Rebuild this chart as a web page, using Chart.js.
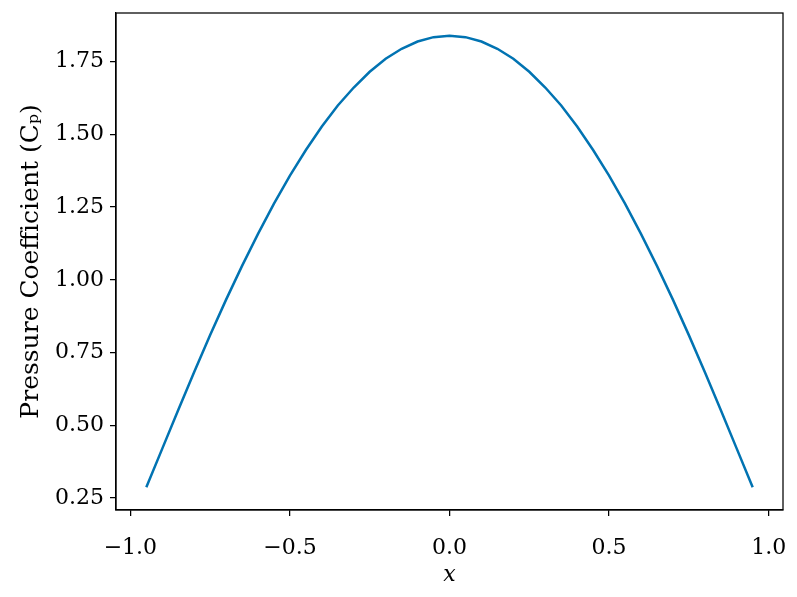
<!DOCTYPE html>
<html>
<head>
<meta charset="utf-8">
<script src="https://cdn.jsdelivr.net/npm/chart.js@4/dist/chart.umd.min.js"></script>
<style>
  html, body { margin: 0; padding: 0; background: #ffffff; }
  #wrap { width: 797px; height: 597px; }
</style>
</head>
<body>
<div id="wrap"><canvas id="c" width="797" height="597"></canvas></div>
<script>
// Data
const xValues = [-0.95, -0.90, -0.85, -0.80, -0.75, -0.70, -0.65, -0.60, -0.55, -0.50,
                 -0.45, -0.40, -0.35, -0.30, -0.25, -0.20, -0.15, -0.10, -0.05, 0.00,
                  0.05, 0.10, 0.15, 0.20, 0.25, 0.30, 0.35, 0.40, 0.45, 0.50,
                  0.55, 0.60, 0.65, 0.70, 0.75, 0.80, 0.85, 0.90, 0.95];
const cpValues = [0.287, 0.420, 0.553, 0.683, 0.810, 0.932, 1.048, 1.158, 1.262, 1.358,
                  1.446, 1.527, 1.599, 1.661, 1.715, 1.760, 1.794, 1.819, 1.834, 1.839,
                  1.834, 1.819, 1.794, 1.760, 1.715, 1.661, 1.599, 1.527, 1.446, 1.358,
                  1.262, 1.158, 1.048, 0.932, 0.810, 0.683, 0.553, 0.420, 0.287];
const xTicks = [-1.0, -0.5, 0.0, 0.5, 1.0];
const yTicks = [0.25, 0.50, 0.75, 1.00, 1.25, 1.50, 1.75];
const xLabel = 'x';
const yLabel = 'Pressure Coefficient (C\u209A)';

const points = xValues.map((x, i) => ({ x: x, y: cpValues[i] }));
const FONT = "'DejaVu Serif', 'Liberation Serif', serif";
const fmt = (v, d) => { const s = Math.abs(v).toFixed(d); return v < 0 ? '\u2212' + s : s; };

const frame = {
  id: 'frame',
  afterDraw(chart) {
    const a = chart.chartArea, ctx = chart.ctx;
    ctx.save();
    ctx.strokeStyle = '#000';
    ctx.lineWidth = 1.25;
    ctx.strokeRect(a.left, a.top, a.right - a.left, a.bottom - a.top);
    ctx.restore();
  }
};

new Chart(document.getElementById('c'), {
  type: 'line',
  data: {
    datasets: [{
      data: points,
      borderColor: '#0173b2',
      borderWidth: 2.5,
      pointRadius: 0,
      fill: false,
      tension: 0
    }]
  },
  options: {
    responsive: false,
    animation: false,
    devicePixelRatio: 1,
    layout: { padding: { left: 0, top: 13, right: 14, bottom: 9 } },
    plugins: { legend: { display: false }, tooltip: { enabled: false } },
    scales: {
      x: {
        type: 'linear',
        min: -1.045, max: 1.045,
        afterBuildTicks: s => { s.ticks = xTicks.map(v => ({ value: v })); },
        afterFit: s => { s.height = 78; s.paddingLeft = 0; s.paddingRight = 0; },
        grid: { display: true, drawOnChartArea: false, drawTicks: true, tickLength: 6, color: '#000', lineWidth: 1.25 },
        border: { display: true, color: '#000', width: 1.25 },
        ticks: { color: '#000', font: { family: FONT, size: 22 }, padding: 19, maxRotation: 0,
                 callback: v => fmt(v, 1) },
        title: { display: true, text: xLabel, color: '#000',
                 font: { family: FONT, size: 22, style: 'italic' }, padding: { top: 0, bottom: 0 } }
      },
      y: {
        type: 'linear',
        min: 0.209, max: 1.917,
        afterBuildTicks: s => { s.ticks = yTicks.map(v => ({ value: v })); },
        afterFit: s => { s.width = 116; s.paddingTop = 0; s.paddingBottom = 0; },
        grid: { display: true, drawOnChartArea: false, drawTicks: true, tickLength: 6, color: '#000', lineWidth: 1.25 },
        border: { display: true, color: '#000', width: 1.25 },
        ticks: { color: '#000', font: { family: FONT, size: 22 }, padding: 6,
                 callback: v => fmt(v, 2) },
        title: { display: true, text: yLabel, color: '#000',
                 font: { family: FONT, size: 25 }, padding: { top: 16, bottom: 0 } }
      }
    }
  },
  plugins: [frame]
});
</script>
</body>
</html>
